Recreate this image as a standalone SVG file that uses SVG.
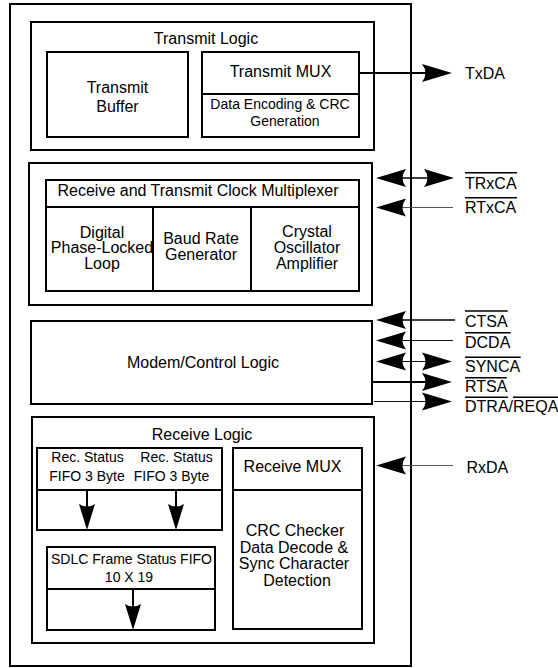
<svg xmlns="http://www.w3.org/2000/svg" width="558" height="668" viewBox="0 0 558 668">
<style>
.box{fill:none;stroke:#000;stroke-width:2}
.div{stroke:#000;stroke-width:2}
.t{font-family:"Liberation Sans",Arial,sans-serif;font-size:16px;text-anchor:middle;fill:#000}
.s{font-size:14px}
.sig{font-family:"Liberation Sans",Arial,sans-serif;font-size:16px;fill:#000}
.ov{stroke:#000;stroke-width:1.5}
.c2{stroke:#000;stroke-width:2;fill:none}
.c15{stroke:#000;stroke-width:1.5;fill:none}
.c1{stroke:#111;stroke-width:1;fill:none}
.cg{stroke:#555;stroke-width:1;fill:none}
</style>
<defs>
<marker id="ah" markerUnits="userSpaceOnUse" viewBox="0 -10 31 20" markerWidth="31" markerHeight="20" refX="4" refY="0" orient="auto-start-reverse">
<path d="M0,-9 Q7,0 0,9 L30,0 Z" fill="#000"/>
</marker>
<marker id="ahs" markerUnits="userSpaceOnUse" viewBox="0 -9 27 18" markerWidth="27" markerHeight="18" refX="3" refY="0" orient="auto">
<path d="M0,-8 Q5,0 0,8 L26,0 Z" fill="#000"/>
</marker>
</defs>

<rect id="outer" class="box" x="10" y="4" width="401" height="662"/>

<g id="transmit-logic">
<rect class="box" x="31" y="22" width="343" height="128"/>
<text class="t" x="206" y="44">Transmit Logic</text>
</g>
<g id="transmit-buffer">
<rect class="box" x="47" y="52" width="141" height="85"/>
<text class="t" x="117.5" y="93">Transmit</text>
<text class="t" x="117.5" y="111.5">Buffer</text>
</g>
<g id="transmit-mux">
<rect class="box" x="202" y="52" width="157" height="85"/>
<line class="div" x1="202" y1="94" x2="359" y2="94"/>
<text class="t" x="280.5" y="77">Transmit MUX</text>
<text class="t s" x="280" y="108.5">Data Encoding &amp; CRC</text>
<text class="t s" x="285" y="126">Generation</text>
</g>

<g id="clock-group">
<rect class="box" x="29" y="163" width="343" height="142"/>
</g>
<g id="clock-mux">
<rect class="box" x="46" y="180" width="313" height="111"/>
<line class="div" x1="46" y1="207" x2="360" y2="207"/>
<text class="t" x="198" y="196">Receive and Transmit Clock Multiplexer</text>
</g>
<g id="dpll">
<line class="div" x1="153" y1="207" x2="153" y2="291"/>
<text class="t" x="102" y="237.5">Digital</text>
<text class="t" x="102" y="253">Phase-Locked</text>
<text class="t" x="102" y="268.5">Loop</text>
</g>
<g id="baud-rate">
<line class="div" x1="251" y1="207" x2="251" y2="291"/>
<text class="t" x="201" y="244">Baud Rate</text>
<text class="t" x="201" y="259.5">Generator</text>
</g>
<g id="crystal">
<text class="t" x="307" y="236.5">Crystal</text>
<text class="t" x="307" y="252.5">Oscillator</text>
<text class="t" x="307" y="268.5">Amplifier</text>
</g>

<g id="modem">
<rect class="box" x="31" y="321" width="341" height="83"/>
<text class="t" x="203" y="368">Modem/Control Logic</text>
</g>

<g id="receive-logic">
<rect class="box" x="32" y="417" width="342" height="226"/>
<text class="t" x="202" y="439.5">Receive Logic</text>
</g>
<g id="rec-status">
<rect class="box" x="37" y="448" width="185" height="82"/>
<line class="div" x1="37" y1="490" x2="222" y2="490"/>
<text class="t s" x="87.5" y="462">Rec. Status</text>
<text class="t s" x="87" y="481">FIFO 3 Byte</text>
<text class="t s" x="176.5" y="462">Rec. Status</text>
<text class="t s" x="171.5" y="481">FIFO 3 Byte</text>
</g>
<g id="sdlc">
<rect class="box" x="47" y="547" width="168" height="83"/>
<line class="div" x1="47" y1="589" x2="215" y2="589"/>
<text class="t s" x="131.5" y="564">SDLC Frame Status FIFO</text>
<text class="t s" x="129" y="582">10 X 19</text>
</g>
<g id="receive-mux">
<rect class="box" x="233" y="448" width="129" height="181"/>
<line class="div" x1="233" y1="490" x2="362" y2="490"/>
<text class="t" x="292.5" y="471.5">Receive MUX</text>
<text class="t" x="295" y="536">CRC Checker</text>
<text class="t" x="294" y="552.7">Data Decode &amp;</text>
<text class="t" x="294" y="569.3">Sync Character</text>
<text class="t" x="297" y="586">Detection</text>
</g>

<g id="connectors">
<line class="c2" x1="87" y1="490" x2="87" y2="507" marker-end="url(#ahs)"/>
<line class="c2" x1="176" y1="490" x2="176" y2="507" marker-end="url(#ahs)"/>
<line class="c2" x1="133" y1="589" x2="133" y2="607" marker-end="url(#ahs)"/>
<line class="c2" x1="359" y1="73" x2="426" y2="73" marker-end="url(#ah)"/>
<line class="c15" x1="402" y1="178" x2="428" y2="178" marker-start="url(#ah)" marker-end="url(#ah)"/>
<line class="cg" x1="453" y1="207.5" x2="402" y2="207.5" marker-end="url(#ah)"/>
<line class="c15" x1="455" y1="320" x2="402" y2="320" marker-end="url(#ah)"/>
<line class="c1" x1="453" y1="340.5" x2="402" y2="340.5" marker-end="url(#ah)"/>
<line class="c1" x1="402" y1="361.5" x2="426" y2="361.5" marker-start="url(#ah)" marker-end="url(#ah)"/>
<line class="c2" x1="372" y1="382" x2="426" y2="382" marker-end="url(#ah)"/>
<line class="c1" x1="374" y1="401.5" x2="426" y2="401.5" marker-end="url(#ah)"/>
<line class="cg" x1="453" y1="465.5" x2="402" y2="465.5" marker-end="url(#ah)"/>
</g>

<g id="signals">
<text class="sig" x="465" y="79">TxDA</text>
<text class="sig" x="465" y="189">TRxCA</text>
<line class="ov" x1="465" y1="172.7" x2="517" y2="172.7"/>
<text class="sig" x="465" y="213.3">RTxCA</text>
<line class="ov" x1="465" y1="197.7" x2="517" y2="197.7"/>
<text class="sig" x="465" y="326.7">CTSA</text>
<line class="ov" x1="465" y1="311" x2="507.7" y2="311"/>
<text class="sig" x="465" y="348.3">DCDA</text>
<line class="ov" x1="465" y1="332.7" x2="510.7" y2="332.7"/>
<text class="sig" x="465" y="371.7">SYNCA</text>
<line class="ov" x1="465" y1="357.3" x2="520.7" y2="357.3"/>
<text class="sig" x="465" y="391.7">RTSA</text>
<line class="ov" x1="465" y1="377.7" x2="506.7" y2="377.7"/>
<text class="sig" x="465" y="411.7">DTRA/REQA</text>
<line class="ov" x1="465" y1="397.3" x2="508" y2="397.3"/>
<line class="ov" x1="513" y1="397.3" x2="558" y2="397.3"/>
<text class="sig" x="466.5" y="473.3">RxDA</text>
</g>
</svg>
